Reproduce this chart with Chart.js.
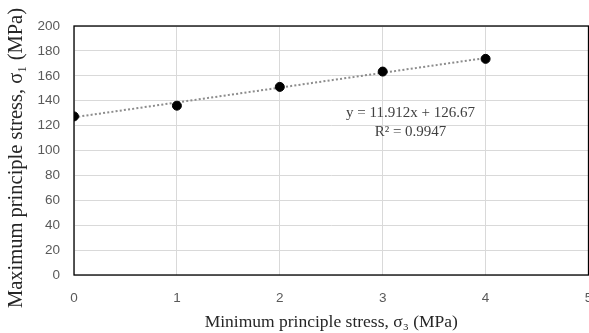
<!DOCTYPE html>
<html><head><meta charset="utf-8">
<script src="https://cdn.jsdelivr.net/npm/chart.js@4.4.0/dist/chart.umd.min.js"></script>
<style>html,body{margin:0;padding:0;background:#fff;overflow:hidden}#wrap{width:594px;height:333px}</style>
</head><body><div id="wrap"><canvas id="c" width="594" height="333"></canvas></div>
<script>
const sigma3 = [0, 1, 2, 3, 4];
const sigma1 = [127.4, 136.0, 151.1, 163.4, 173.6];
const trendX = [0, 4];
const trendY = [126.67, 174.32];
const equationLines = ['y = 11.912x + 126.67', 'R² = 0.9947'];
const equationAt = {x: 3.27, y: [130.0, 115.1]};
const xTicks = [0, 1, 2, 3, 4, 5];
const yTicks = [0, 20, 40, 60, 80, 100, 120, 140, 160, 180, 200];
const yTitle = 'Maximum principle stress, σ₁ (MPa)';
const xTitle = 'Minimum principle stress, σ₃ (MPa)';

const frame = {
  id: 'frame',
  afterDraw(chart) {
    const {ctx, chartArea: a, scales} = chart;
    ctx.save();
    ctx.strokeStyle = '#000';
    ctx.lineWidth = 1.3;
    ctx.strokeRect(a.left, a.top, a.right - a.left, a.bottom - a.top);
    ctx.fillStyle = '#404040';
    ctx.font = '15px "Liberation Serif", "Times New Roman", serif';
    ctx.textAlign = 'center';
    ctx.textBaseline = 'middle';
    equationLines.forEach((t, i) => {
      ctx.fillText(t, scales.x.getPixelForValue(equationAt.x), scales.y.getPixelForValue(equationAt.y[i]));
    });
    // y axis title
    ctx.fillStyle = '#262626';
    ctx.font = '20.5px "Liberation Serif", "Times New Roman", serif';
    ctx.translate(17, 158);
    ctx.rotate(-Math.PI / 2);
    ctx.fillText(yTitle, 0, 0);
    ctx.restore();
  }
};

new Chart(document.getElementById('c'), {
  type: 'scatter',
  data: {
    datasets: [
      {
        data: sigma3.map((x, i) => ({x, y: sigma1[i]})),
        backgroundColor: '#000', borderColor: '#000',
        pointRadius: 4.5, pointHoverRadius: 4.5, order: 1
      },
      {
        type: 'line',
        data: trendX.map((x, i) => ({x, y: trendY[i]})),
        borderColor: '#8c8c8c', borderWidth: 2, borderDash: [2, 2.2],
        pointRadius: 0, fill: false, order: 2
      }
    ]
  },
  plugins: [frame],
  options: {
    responsive: false, animation: false, events: [],
    layout: {padding: {top: 26, right: 0, left: 0, bottom: 0}},
    plugins: {legend: {display: false}, tooltip: {enabled: false}},
    scales: {
      x: {
        type: 'linear', min: 0, max: 5,
        afterBuildTicks: s => { s.ticks = xTicks.map(v => ({value: v})); },
        afterFit: s => { s.height = 58; s.paddingLeft = 0; s.paddingRight = 0; },
        grid: {color: '#d9d9d9', lineWidth: 1, tickLength: 0, drawTicks: false},
        border: {display: false},
        ticks: {padding: 15, color: '#595959', font: {family: '"Liberation Sans", Arial, sans-serif', size: 13.5}, maxRotation: 0},
        title: {display: true, text: xTitle, color: '#262626',
          font: {family: '"Liberation Serif", "Times New Roman", serif', size: 17.5}, padding: {top: 5, bottom: 0}}
      },
      y: {
        type: 'linear', min: 0, max: 200,
        afterBuildTicks: s => { s.ticks = yTicks.map(v => ({value: v})); },
        afterFit: s => { s.width = 74; s.paddingTop = 0; s.paddingBottom = 0; },
        grid: {color: '#d9d9d9', lineWidth: 1, tickLength: 0, drawTicks: false},
        border: {display: false},
        ticks: {padding: 14, color: '#595959', font: {family: '"Liberation Sans", Arial, sans-serif', size: 13.5}}
      }
    }
  }
});
</script></body></html>
